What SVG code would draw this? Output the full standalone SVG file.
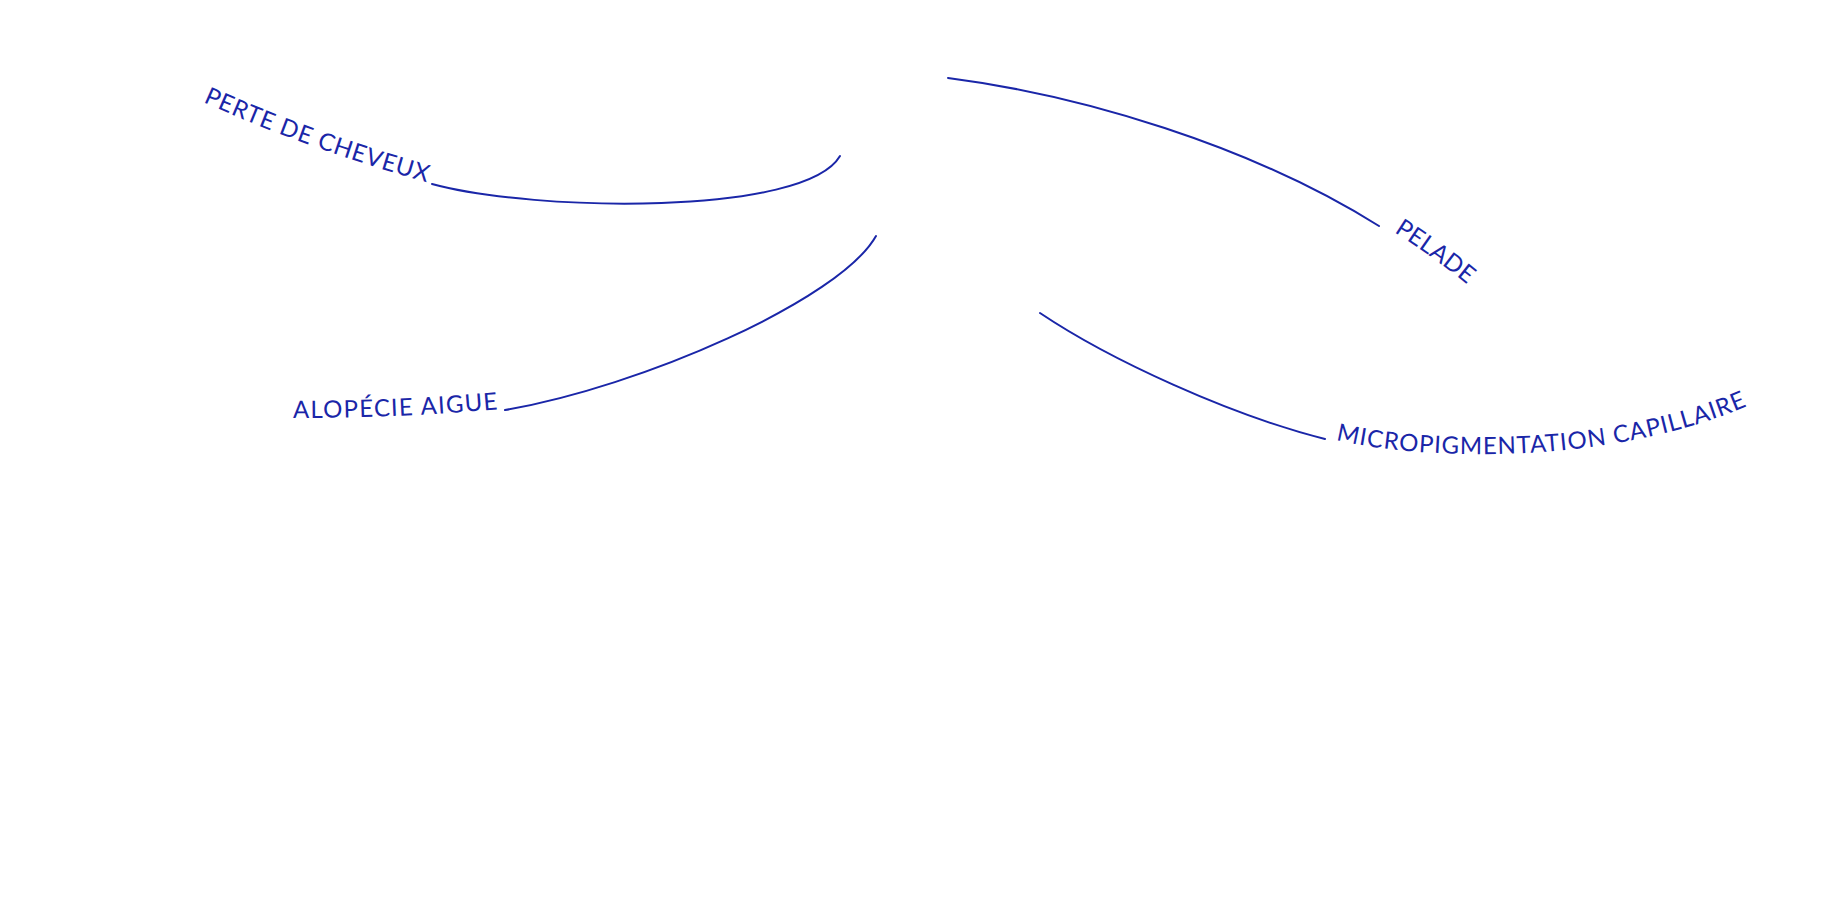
<svg xmlns="http://www.w3.org/2000/svg" xmlns:xlink="http://www.w3.org/1999/xlink" width="1836" height="919" viewBox="0 0 1836 919">
<style>
.conn{fill:none;stroke:#1a26a8;stroke-width:2;stroke-linecap:round}
.lbl{font-family:"Lato","Liberation Sans",sans-serif;font-size:24px;fill:#1a26a8}
</style>
<defs>
<path id="p1" d="M 203 102 Q 310 150 430 183"/>
<path id="p2" d="M 293 418 Q 400 418 500 409"/>
<path id="p3" d="M 1394 232 Q 1435 258 1474 290"/>
<path id="p4" d="M 1336 440 C 1410 458 1600 470 1752 404"/>
</defs>
<rect width="1836" height="919" fill="#ffffff"/>
<g id="connectors">
<path class="conn" d="M 432 184 C 535 212 805 216 840 156"/>
<path class="conn" d="M 505 410 C 640 387 840 300 876 236"/>
<path class="conn" d="M 948 78 C 1080 95 1250 145 1379 226"/>
<path class="conn" d="M 1040 313 C 1110 360 1230 415 1325 439"/>
</g>
<g id="node-perte"><text class="lbl"><textPath xlink:href="#p1" href="#p1" textLength="238" lengthAdjust="spacing">PERTE DE CHEVEUX</textPath></text></g>
<g id="node-alopecie"><text class="lbl"><textPath xlink:href="#p2" href="#p2" textLength="205" lengthAdjust="spacing">ALOPÉCIE AIGUE</textPath></text></g>
<g id="node-pelade"><text class="lbl"><textPath xlink:href="#p3" href="#p3" textLength="90" lengthAdjust="spacing">PELADE</textPath></text></g>
<g id="node-micro"><text class="lbl"><textPath xlink:href="#p4" href="#p4" textLength="418" lengthAdjust="spacing">MICROPIGMENTATION CAPILLAIRE</textPath></text></g>
</svg>
